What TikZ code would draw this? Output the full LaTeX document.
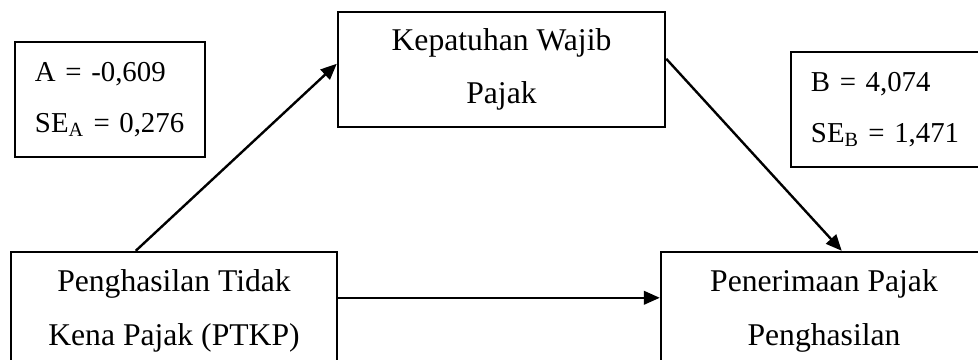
\documentclass[tikz,border=0pt]{standalone}
\usepackage{fontspec}
\setmainfont{Liberation Serif}
\usetikzlibrary{positioning,arrows.meta,calc}

\begin{document}
\begin{tikzpicture}[x=0.025cm, y=-0.025cm,
    every node/.style={font=\fontsize{22.5}{38}\selectfont},
    varbox/.style={draw, line width=1.7pt, align=center, inner sep=0pt},
    coefbox/.style={draw, line width=1.7pt, align=left, text width=3.75cm, inner xsep=0.5cm, inner ysep=0pt, minimum height=2.875cm, font=\fontsize{20.5}{36}\selectfont},
    link/.style={line width=1.7pt, -{Triangle[length=0.4cm, width=0.34cm]}}]

    \useasboundingbox (0,0) rectangle (978,360);
    \clip (0,0) rectangle (978,360);

    % Variables
    \node[varbox, minimum width=8.175cm, minimum height=2.875cm] (kep) at (501.5,69.5) {Kepatuhan Wajib\\Pajak};
    \node[varbox, minimum width=8.15cm, minimum height=2.95cm] (ptkp) at (174,311) {Penghasilan Tidak\\Kena Pajak (PTKP)};
    \node[varbox, minimum width=8.15cm, minimum height=2.95cm] (pen) at (824,311) {Penerimaan Pajak\\Penghasilan};

    % Coefficients
    \node[coefbox] (a) at (110,99.5) {A = -0,609\\SE\textsubscript{A} = 0,276};
    \node[coefbox] (b) at (886,109.5) {B = 4,074\\SE\textsubscript{B} = 1,471};

    % Arrows
    \draw[link] ($(ptkp.north west)+(126,0)$) -- ($(kep.north west)+(0,53)$);
    \draw[link] ($(kep.north east)+(0,48)$) -- ($(pen.north west)+(182,0)$);
    \draw[link] ($(ptkp.north east)+(0,47)$) -- ($(pen.north west)+(0,47)$);
\end{tikzpicture}
\end{document}
